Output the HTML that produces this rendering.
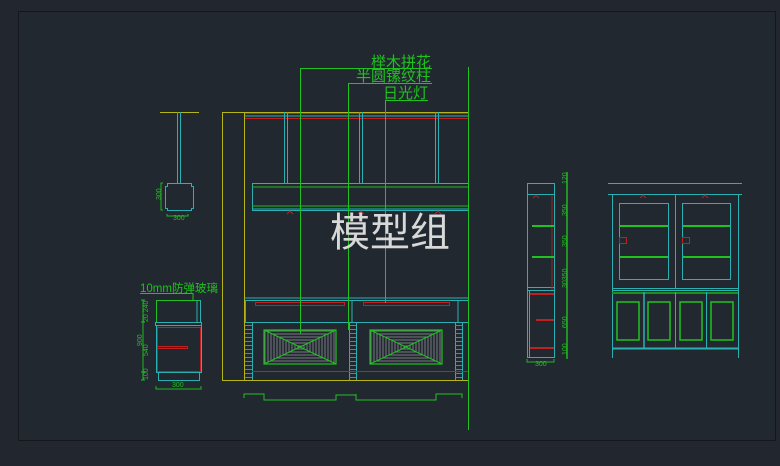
<!DOCTYPE html>
<html><head><meta charset="utf-8"><style>
html,body{margin:0;padding:0;background:#22272f;}
svg{display:block;}
text{font-family:"Liberation Sans","Noto Sans CJK SC",sans-serif;}
</style></head><body>
<svg width="780" height="466" viewBox="0 0 780 466" xmlns="http://www.w3.org/2000/svg">
<defs>
<pattern id="hs" width="4" height="3" patternUnits="userSpaceOnUse"><line x1="0" y1="1" x2="4" y2="1" stroke="#8a8f96" stroke-width="0.8"/></pattern>
<pattern id="vs" width="3" height="4" patternUnits="userSpaceOnUse"><line x1="1" y1="0" x2="1" y2="4" stroke="#8a8f96" stroke-width="0.8"/></pattern>
<pattern id="rung" width="7" height="4" patternUnits="userSpaceOnUse"><line x1="0" y1="1.5" x2="7" y2="1.5" stroke="#1fb81f" stroke-width="1"/></pattern>
<g id="grille">
<polygon points="0,0 72,0 36,17" fill="url(#hs)"/>
<polygon points="0,34 72,34 36,17" fill="url(#hs)"/>
<polygon points="0,0 0,34 36,17" fill="url(#vs)"/>
<polygon points="72,0 72,34 36,17" fill="url(#vs)"/>
<rect x="0" y="0" width="72" height="34" fill="none" stroke="#1fc21f" stroke-width="1.2"/>
<line x1="0" y1="0" x2="72" y2="34" stroke="#1fc21f"/>
<line x1="72" y1="0" x2="0" y2="34" stroke="#1fc21f"/>
</g>
</defs>
<rect x="0" y="0" width="780" height="466" fill="#22272f"/>
<rect x="18.5" y="11.5" width="757" height="429" fill="#222830" stroke="#14171c" stroke-width="1"/>

<g fill="none" stroke-width="1">
<rect x="222.5" y="112.5" width="246" height="268" stroke="#b5b51a"/>
<line x1="244.5" y1="112" x2="244.5" y2="380" stroke="#b5b51a"/>
<line x1="245" y1="113.5" x2="468" y2="113.5" stroke="#c02020"/>
<line x1="245" y1="118.5" x2="468" y2="118.5" stroke="#c02020"/>
<line x1="245" y1="116" x2="468" y2="116" stroke="#2ab0b0"/>
<g stroke="#2ab0b0">
<line x1="284.5" y1="112" x2="284.5" y2="183"/><line x1="287.5" y1="112" x2="287.5" y2="183"/>
<line x1="359.5" y1="112" x2="359.5" y2="183"/><line x1="362.5" y1="112" x2="362.5" y2="183"/>
<line x1="435.5" y1="112" x2="435.5" y2="183"/><line x1="438.5" y1="112" x2="438.5" y2="183"/>
<rect x="252.5" y="183.5" width="216" height="27"/>
<line x1="252" y1="209" x2="468" y2="209"/>
<rect x="245.5" y="300.5" width="223" height="22"/>
<line x1="245" y1="298" x2="468" y2="298"/>
<line x1="352" y1="300" x2="352" y2="322"/><line x1="458" y1="300" x2="458" y2="322"/>
<line x1="252.5" y1="322" x2="252.5" y2="380"/><line x1="349.5" y1="322" x2="349.5" y2="380"/><line x1="356.5" y1="322" x2="356.5" y2="380"/><line x1="455.5" y1="322" x2="455.5" y2="380"/><line x1="462.5" y1="322" x2="462.5" y2="380"/>
</g>
<line x1="252" y1="187" x2="468" y2="187" stroke="#1fb81f"/>
<line x1="252" y1="206" x2="468" y2="206" stroke="#1fb81f"/>
<rect x="255.5" y="302.5" width="89" height="3" stroke="#c02020"/>
<rect x="363.5" y="302.5" width="86" height="3" stroke="#c02020"/>
<line x1="252" y1="371.5" x2="468" y2="371.5" stroke="#c02020"/>
<g stroke="#c02020"><path d="M287 214l3-3 3 3M358 214l3-3 3 3M435 214l3-3 3 3"/></g>
</g>
<rect x="245" y="323" width="7" height="57" fill="url(#rung)"/>
<rect x="349" y="323" width="7" height="57" fill="url(#rung)"/>
<rect x="455" y="323" width="7" height="57" fill="url(#rung)"/>
<use href="#grille" x="264" y="330"/>
<use href="#grille" x="370" y="330"/>

<g stroke="#1fc21f" fill="none" stroke-width="1">
<line x1="468.5" y1="67" x2="468.5" y2="430"/>
<polyline points="300.5,334 300.5,68.5 432,68.5"/>
<polyline points="348.5,330 348.5,83.5 432,83.5"/>
<polyline points="385.5,303 385.5,100.5 428,100.5"/>
<polyline points="244,398 244,394 264,394 264,400 336,400 336,395 356,395 356,394 356,400 436,400 436,394 462,394 462,398"/>
</g>
<text x="371" y="67" fill="#1fc21f" font-size="15">榉木拼花</text>
<text x="356" y="81" fill="#1fc21f" font-size="15">半圆镙纹柱</text>
<text x="383" y="98" fill="#1fc21f" font-size="15">日光灯</text>

<g fill="none" stroke-width="1">
<line x1="160" y1="112.5" x2="199" y2="112.5" stroke="#b5b51a"/>
<line x1="177.5" y1="112" x2="177.5" y2="183" stroke="#2ab0b0"/><line x1="180.5" y1="112" x2="180.5" y2="183" stroke="#2ab0b0"/>
<path d="M167.5 183.5h24v3h2v22h-2v2h-24v-2h-2v-22h2z" stroke="#2ab0b0"/>
<path d="M163 183h-2v27h2M167 214v2h21v-2" stroke="#1fb81f"/>
</g>
<text x="155" y="200" fill="#1fc21f" font-size="7" transform="rotate(-90 158 197)">300</text>
<text x="173" y="220" fill="#1fc21f" font-size="7">300</text>

<text x="140" y="292" fill="#1fc21f" font-size="11.5">10mm防弹玻璃</text>
<g fill="none" stroke-width="1">
<polyline points="140,293.5 193,293.5 193,300" stroke="#1fc21f"/>
<rect x="156.5" y="300.5" width="44" height="22" stroke="#1fc21f"/>
<line x1="197" y1="300" x2="197" y2="322" stroke="#2ab0b0"/><line x1="200.5" y1="300" x2="200.5" y2="322" stroke="#2ab0b0"/>
<rect x="155.5" y="322.5" width="46" height="3" stroke="#2ab0b0"/>
<rect x="156.5" y="325.5" width="45" height="47" stroke="#2ab0b0"/>
<rect x="158.5" y="372.5" width="41" height="8" stroke="#2ab0b0"/>
<rect x="157.5" y="327.5" width="43" height="44" stroke="#c02020"/>
<rect x="157.5" y="346.5" width="30" height="2" stroke="#c02020"/>
<path d="M143 300v80M141 300h4M141 322h4M141 372h4M141 380h4M156 386v3h45v-3" stroke="#1fb81f"/>
</g>
<g fill="#1fc21f" font-size="7">
<text transform="translate(148 322) rotate(-90)">20 240</text>
<text transform="translate(142 346) rotate(-90)">900</text>
<text transform="translate(148 356) rotate(-90)">540</text>
<text transform="translate(148 380) rotate(-90)">100</text>
<text x="172" y="387">300</text>
</g>

<g fill="none" stroke-width="1">
<rect x="527.5" y="183.5" width="27" height="174" stroke="#2ab0b0"/>
<line x1="527" y1="194.5" x2="554" y2="194.5" stroke="#2ab0b0"/>
<line x1="527" y1="287.5" x2="554" y2="287.5" stroke="#2ab0b0"/>
<line x1="527" y1="290.5" x2="554" y2="290.5" stroke="#2ab0b0"/>
<line x1="529.5" y1="291" x2="529.5" y2="358" stroke="#2ab0b0"/>
<line x1="552" y1="195" x2="552" y2="290" stroke="#a02020"/>
<line x1="532" y1="226" x2="554" y2="226" stroke="#1fc21f" stroke-width="2"/>
<line x1="532" y1="257" x2="554" y2="257" stroke="#1fc21f" stroke-width="2"/>
<line x1="530" y1="294" x2="554" y2="294" stroke="#c02020" stroke-width="2"/>
<line x1="536" y1="320" x2="554" y2="320" stroke="#c02020" stroke-width="2"/>
<line x1="530" y1="348" x2="554" y2="348" stroke="#c02020" stroke-width="2"/>
<line x1="567" y1="172" x2="567" y2="359" stroke="#1fb81f" stroke-width="1.5"/>
<path d="M527 359v3h27v-3" stroke="#1fb81f"/>
<path d="M533 198l3-3 3 3" stroke="#c02020"/>
</g>
<g fill="#1fc21f" font-size="7">
<text transform="translate(567 184) rotate(-90)">120</text>
<text transform="translate(567 216) rotate(-90)">350</text>
<text transform="translate(567 247) rotate(-90)">350</text>
<text transform="translate(567 288) rotate(-90)">30350</text>
<text transform="translate(567 328) rotate(-90)">650</text>
<text transform="translate(567 355) rotate(-90)">100</text>
<text x="535" y="366">300</text>
</g>

<g fill="none" stroke-width="1">
<line x1="608" y1="183.5" x2="742" y2="183.5" stroke="#2ab0b0"/>
<line x1="608" y1="194.5" x2="742" y2="194.5" stroke="#2ab0b0"/>
<line x1="612.5" y1="194" x2="612.5" y2="358" stroke="#2ab0b0"/>
<line x1="738.5" y1="194" x2="738.5" y2="358" stroke="#2ab0b0"/>
<line x1="675.5" y1="194" x2="675.5" y2="288" stroke="#2ab0b0"/>
<rect x="619.5" y="203.5" width="49" height="76" stroke="#2ab0b0"/>
<rect x="682.5" y="203.5" width="48" height="76" stroke="#2ab0b0"/>
<line x1="612" y1="288.5" x2="738" y2="288.5" stroke="#2ab0b0"/>
<line x1="612" y1="290.5" x2="738" y2="290.5" stroke="#2ab0b0"/>
<line x1="612" y1="293" x2="738" y2="293" stroke="#1d8f1d" stroke-width="2"/>
<line x1="612" y1="348.5" x2="738" y2="348.5" stroke="#2ab0b0" stroke-width="2"/>
<line x1="644" y1="292" x2="644" y2="348" stroke="#2ab0b0" stroke-width="1.5"/>
<line x1="675.5" y1="292" x2="675.5" y2="348" stroke="#2ab0b0"/>
<line x1="706.5" y1="292" x2="706.5" y2="348" stroke="#2ab0b0"/>
<g stroke="#1fc21f" stroke-width="1.5">
<rect x="617" y="302" width="22" height="38"/><rect x="648" y="302" width="22" height="38"/>
<rect x="680" y="302" width="22" height="38"/><rect x="711" y="302" width="22" height="38"/>
</g>
<g stroke="#1fc21f" stroke-width="2">
<line x1="620" y1="226" x2="668" y2="226"/><line x1="620" y1="257" x2="668" y2="257"/>
<line x1="683" y1="226" x2="730" y2="226"/><line x1="683" y1="257" x2="730" y2="257"/>
</g>
<rect x="619.5" y="237.5" width="7" height="6" stroke="#c02020"/>
<rect x="682.5" y="237.5" width="7" height="6" stroke="#c02020"/>
<path d="M640 198l3-3 3 3M702 198l3-3 3 3" stroke="#c02020"/>
</g>

<text x="330" y="246" fill="#d8d8d8" font-size="40" font-family="'Noto Sans CJK SC',sans-serif">模型组</text>
</svg>
</body></html>
